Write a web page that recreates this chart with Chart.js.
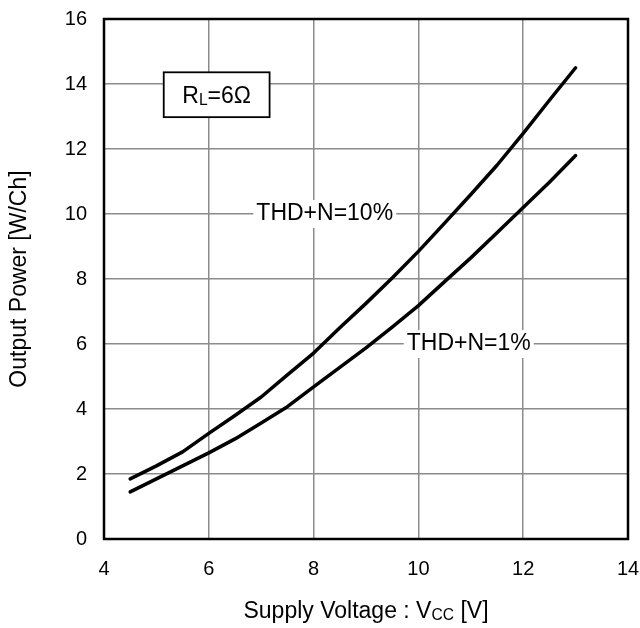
<!DOCTYPE html>
<html>
<head>
<meta charset="utf-8">
<script src="https://cdn.jsdelivr.net/npm/chart.js@4/dist/chart.umd.min.js"></script>
<style>
  html, body { margin: 0; padding: 0; background: #fff; }
  canvas { display: block; }
</style>
</head>
<body>
<canvas id="chart" width="640" height="628"></canvas>
<script>
// supply voltage [V] every 0.5 V
const voltage = [4.5, 5, 5.5, 6, 6.5, 7, 7.5, 8, 8.5, 9, 9.5, 10, 10.5, 11, 11.5, 12, 12.5, 13];
// output power [W/Ch]
const thd10 = [1.85, 2.25, 2.68, 3.25, 3.8, 4.37, 5.05, 5.72, 6.5, 7.25, 8.03, 8.85, 9.72, 10.6, 11.5, 12.48, 13.5, 14.5];
const thd1 = [1.45, 1.85, 2.25, 2.65, 3.08, 3.57, 4.07, 4.68, 5.28, 5.88, 6.52, 7.18, 7.92, 8.65, 9.42, 10.2, 10.98, 11.8];

const xTicks = [4, 6, 8, 10, 12, 14];
const yTicks = [0, 2, 4, 6, 8, 10, 12, 14, 16];

const FAMILY = '"Liberation Sans", Arial, sans-serif';

// labels next to the curves, anchored in data units
const curveLabels = [
  {text: 'THD+N=10%', x: 6.85, y: 10},
  {text: 'THD+N=1%', x: 9.72, y: 6}
];
const loadBox = {x0: 5.14, y0: 14.36, x1: 7.16, y1: 12.98};

function toPoints(xs, ys) {
  return xs.map((v, i) => ({x: v, y: ys[i]}));
}

// draws text pieces in a row, some as subscripts; returns total width
function subText(ctx, parts, x, y, size, measureOnly) {
  let cx = x;
  parts.forEach(p => {
    const s = p.sub ? size * 0.68 : size;
    ctx.font = s + 'px ' + FAMILY;
    if (!measureOnly) ctx.fillText(p.t, cx, p.sub ? y + 2 : y);
    cx += ctx.measureText(p.t).width;
  });
  return cx - x;
}

const extras = {
  id: 'extras',
  beforeDatasetsDraw(chart) {
    const {ctx, chartArea: a, scales: {x, y}} = chart;
    ctx.save();
    ctx.strokeStyle = '#000';
    ctx.lineWidth = 2.5;
    ctx.strokeRect(a.left, a.top, a.width, a.height);

    ctx.textBaseline = 'middle';
    ctx.font = '23px ' + FAMILY;
    curveLabels.forEach(l => {
      const px = x.getPixelForValue(l.x), py = y.getPixelForValue(l.y);
      const w = ctx.measureText(l.text).width;
      ctx.fillStyle = '#fff';
      ctx.fillRect(px, py - 14, w + 6, 28);
      ctx.fillStyle = '#000';
      ctx.fillText(l.text, px + 3, py);
    });

    // R_L box
    const bx0 = x.getPixelForValue(loadBox.x0), bx1 = x.getPixelForValue(loadBox.x1);
    const by0 = y.getPixelForValue(loadBox.y0), by1 = y.getPixelForValue(loadBox.y1);
    ctx.fillStyle = '#fff';
    ctx.fillRect(bx0, by0, bx1 - bx0, by1 - by0);
    ctx.lineWidth = 1.8;
    ctx.strokeStyle = '#000';
    ctx.strokeRect(bx0, by0, bx1 - bx0, by1 - by0);
    ctx.fillStyle = '#000';
    ctx.textBaseline = 'alphabetic';
    const parts = [{t: 'R'}, {t: 'L', sub: true}, {t: '=6Ω'}];
    const tw = subText(ctx, parts, 0, 0, 23, true);
    subText(ctx, parts, (bx0 + bx1) / 2 - tw / 2, (by0 + by1) / 2 + 8, 23);
    ctx.restore();
  },
  afterDraw(chart) {
    const {ctx, chartArea: a} = chart;
    ctx.save();
    ctx.fillStyle = '#000';
    ctx.textBaseline = 'alphabetic';
    const parts = [{t: 'Supply Voltage : V'}, {t: 'CC', sub: true}, {t: ' [V]'}];
    const tw = subText(ctx, parts, 0, 0, 23, true);
    subText(ctx, parts, (a.left + a.right) / 2 - tw / 2, 618, 23);

    ctx.translate(20, (a.top + a.bottom) / 2);
    ctx.rotate(-Math.PI / 2);
    ctx.font = '23px ' + FAMILY;
    ctx.textAlign = 'center';
    ctx.textBaseline = 'middle';
    ctx.fillText('Output Power [W/Ch]', 0, 0);
    ctx.restore();
  }
};

const lineStyle = {
  borderColor: '#000',
  borderWidth: 3.5,
  borderCapStyle: 'round',
  borderJoinStyle: 'round',
  pointRadius: 0,
  tension: 0,
  fill: false
};

new Chart(document.getElementById('chart'), {
  type: 'line',
  data: {
    datasets: [
      Object.assign({label: 'THD+N=10%', data: toPoints(voltage, thd10)}, lineStyle),
      Object.assign({label: 'THD+N=1%', data: toPoints(voltage, thd1)}, lineStyle)
    ]
  },
  options: {
    responsive: false,
    animation: false,
    devicePixelRatio: 1,
    layout: {padding: {top: 19, right: 12, left: 0, bottom: 0}},
    plugins: {legend: {display: false}, tooltip: {enabled: false}},
    scales: {
      x: {
        type: 'linear',
        min: 4, max: 14,
        afterBuildTicks: s => { s.ticks = xTicks.map(v => ({value: v})); },
        afterFit: s => { s.height = 89; s.paddingLeft = 0; s.paddingRight = 0; },
        grid: {color: '#8c8c8c', lineWidth: 1.5, drawTicks: false},
        border: {display: false},
        ticks: {color: '#000', padding: 18, font: {family: FAMILY, size: 20}}
      },
      y: {
        min: 0, max: 16,
        afterBuildTicks: s => { s.ticks = yTicks.map(v => ({value: v})); },
        afterFit: s => { s.width = 104; s.paddingTop = 0; s.paddingBottom = 0; },
        grid: {color: '#8c8c8c', lineWidth: 1.5, drawTicks: false},
        border: {display: false},
        ticks: {color: '#000', padding: 17, font: {family: FAMILY, size: 20}}
      }
    }
  },
  plugins: [extras]
});
</script>
</body>
</html>
